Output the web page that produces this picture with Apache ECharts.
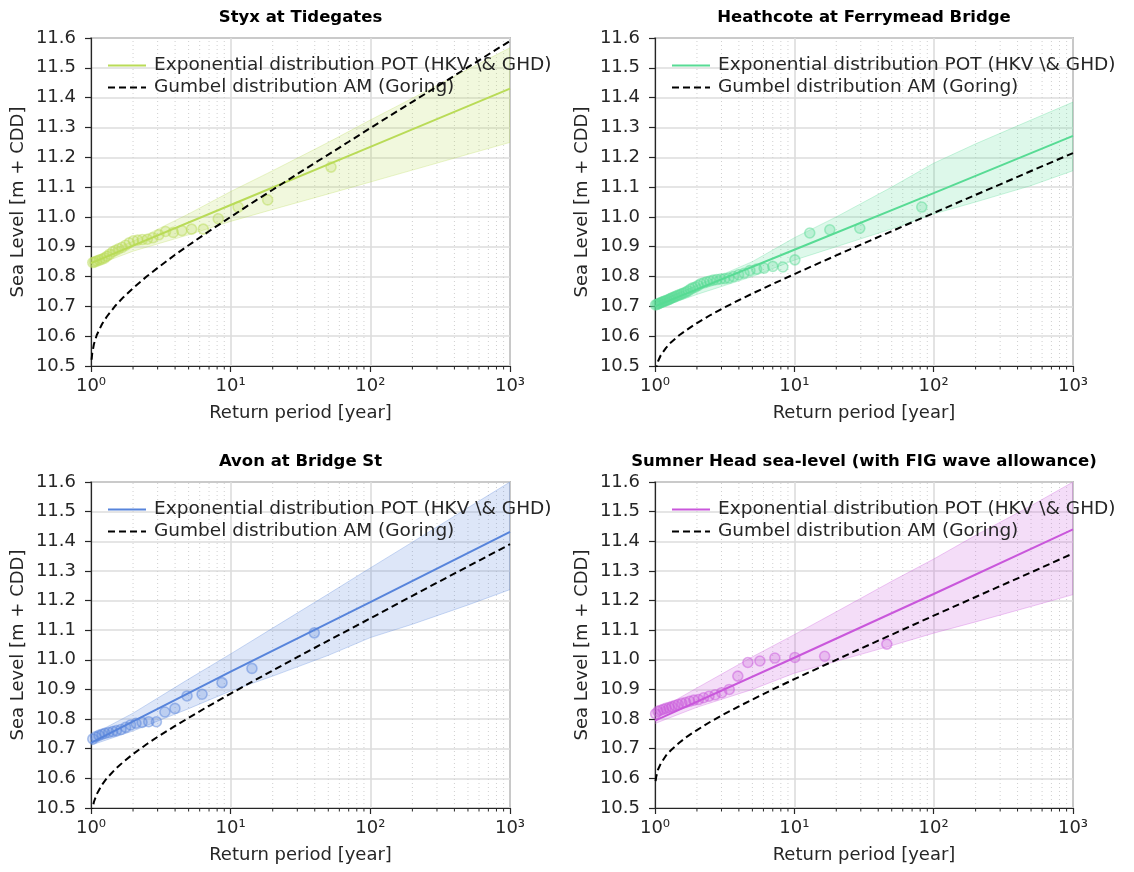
<!DOCTYPE html>
<html>
<head>
<meta charset="utf-8">
<script src="https://cdn.jsdelivr.net/npm/echarts@6/dist/echarts.min.js"></script>
<style>html,body{margin:0;padding:0;background:#fff}#c{width:1134px;height:872px}</style>
</head>
<body>
<div id="c"></div>
<script>
// ---------- data ----------
const panelTitles = ['Styx at Tidegates', 'Heathcote at Ferrymead Bridge', 'Avon at Bridge St', 'Sumner Head sea-level (with FIG wave allowance)'];
const panelColors = ['#B9DB57', '#57DB94', '#5784DB', '#C957DB'];
const legendPot = 'Exponential distribution POT (HKV \\& GHD)';
const legendGumbel = 'Gumbel distribution AM (Goring)';
const yTicks = [10.5, 11.6, 0.1];
const xDecadeLabels = ['10\u2070', '10\u00B9', '10\u00B2', '10\u00B3'];
const minorT = [2,3,4,5,6,7,8,9,20,30,40,50,60,70,80,90,200,300,400,500,600,700,800,900];

const potT = [1, 10, 100, 1000];
const styxPot = [10.845, 11.04, 11.235, 11.43];
const heathPot = [10.70, 10.89, 11.08, 11.272];
const avonPot = [10.72, 10.96, 11.195, 11.432];
const sumnerPot = [10.795, 11.007, 11.222, 11.44];

const bandT = [1, 2, 5, 10, 20, 50, 100, 200, 500, 1000];
const styxLower = [10.832, 10.885, 10.94, 10.985, 11.025, 11.077, 11.117, 11.157, 11.21, 11.25];
const styxUpper = [10.862, 10.918, 11.01, 11.085, 11.155, 11.25, 11.325, 11.398, 11.495, 11.567];
const heathLower = [10.69, 10.74, 10.80, 10.855, 10.9, 10.96, 11.01, 11.05, 11.105, 11.155];
const heathUpper = [10.712, 10.77, 10.85, 10.93, 11.0, 11.1, 11.18, 11.245, 11.325, 11.385];
const avonLower = [10.712, 10.76, 10.835, 10.895, 10.945, 11.015, 11.075, 11.12, 11.185, 11.237];
const avonUpper = [10.745, 10.82, 10.935, 11.02, 11.107, 11.222, 11.31, 11.397, 11.513, 11.60];
const sumnerLower = [10.785, 10.84, 10.90, 10.955, 10.995, 11.048, 11.09, 11.128, 11.18, 11.22];
const sumnerUpper = [10.825, 10.905, 11.01, 11.085, 11.162, 11.265, 11.34, 11.42, 11.52, 11.60];

const gumbelT = [1.01, 1.02, 1.05, 1.1, 1.2, 1.3, 1.5, 1.7, 2, 2.5, 3, 4, 5, 7, 10, 15, 20, 30, 50, 70, 100, 200, 300, 500, 1000];
const styxGumbel = [10.521, 10.542, 10.574, 10.604, 10.641, 10.666, 10.703, 10.730, 10.761, 10.800, 10.829, 10.873, 10.905, 10.952, 11.000, 11.054, 11.091, 11.144, 11.209, 11.252, 11.298, 11.386, 11.437, 11.502, 11.590];
const heathGumbel = [10.479, 10.493, 10.515, 10.536, 10.561, 10.579, 10.604, 10.622, 10.644, 10.671, 10.691, 10.721, 10.743, 10.775, 10.808, 10.845, 10.871, 10.907, 10.952, 10.982, 11.013, 11.074, 11.109, 11.154, 11.214];
const avonGumbel = [10.476, 10.494, 10.521, 10.547, 10.579, 10.601, 10.632, 10.655, 10.682, 10.715, 10.740, 10.777, 10.804, 10.845, 10.886, 10.932, 10.964, 11.009, 11.065, 11.101, 11.140, 11.216, 11.260, 11.315, 11.390];
const sumnerGumbel = [10.591, 10.605, 10.629, 10.650, 10.677, 10.695, 10.721, 10.741, 10.763, 10.791, 10.812, 10.843, 10.866, 10.900, 10.935, 10.973, 11.000, 11.038, 11.085, 11.116, 11.149, 11.212, 11.249, 11.295, 11.359];

const styxObsT = [52.3, 18.4, 11.3, 8.15, 6.37, 5.25, 4.47, 3.88, 3.42, 3.06, 2.77, 2.53, 2.33, 2.16, 2.01, 1.88, 1.77, 1.67, 1.58, 1.50, 1.43, 1.36, 1.30, 1.25, 1.20, 1.15, 1.10, 1.06, 1.03];
const styxObsLevel = [11.167, 11.057, 11.033, 10.994, 10.959, 10.959, 10.954, 10.948, 10.951, 10.940, 10.930, 10.925, 10.924, 10.922, 10.92, 10.913, 10.905, 10.898, 10.893, 10.888, 10.883, 10.875, 10.868, 10.862, 10.858, 10.855, 10.852, 10.849, 10.847];
const heathObsT = [82.1, 29.5, 17.97, 12.9, 10.09, 8.27, 7.0, 6.07, 5.36, 4.8, 4.36, 3.98, 3.66, 3.39, 3.16, 2.96, 2.78, 2.62, 2.48, 2.35, 2.24, 2.13, 2.04, 1.95, 1.87, 1.80, 1.73, 1.67, 1.61, 1.555, 1.505, 1.457, 1.41, 1.37, 1.33, 1.29, 1.26, 1.225, 1.19, 1.165, 1.135, 1.11, 1.08, 1.06, 1.035, 1.01];
const heathObsLevel = [11.033, 10.962, 10.957, 10.946, 10.856, 10.832, 10.834, 10.828, 10.825, 10.82, 10.811, 10.806, 10.80, 10.795, 10.793, 10.792, 10.79, 10.788, 10.785, 10.782, 10.779, 10.776, 10.77, 10.765, 10.762, 10.758, 10.752, 10.748, 10.745, 10.742, 10.739, 10.737, 10.734, 10.731, 10.729, 10.726, 10.723, 10.721, 10.719, 10.717, 10.715, 10.713, 10.711, 10.709, 10.707, 10.705];
const avonObsT = [39.7, 14.2, 8.67, 6.24, 4.87, 3.99, 3.38, 2.94, 2.59, 2.32, 2.10, 1.92, 1.77, 1.64, 1.52, 1.43, 1.34, 1.26, 1.20, 1.14, 1.08, 1.03];
const avonObsLevel = [11.091, 10.971, 10.923, 10.884, 10.878, 10.836, 10.824, 10.791, 10.791, 10.789, 10.786, 10.78, 10.772, 10.765, 10.761, 10.758, 10.755, 10.752, 10.749, 10.745, 10.74, 10.733];
const sumnerObsT = [46.1, 16.5, 10.08, 7.25, 5.66, 4.64, 3.93, 3.41, 3.01, 2.70, 2.44, 2.23, 2.05, 1.90, 1.77, 1.66, 1.56, 1.47, 1.39, 1.32, 1.26, 1.20, 1.15, 1.10, 1.05, 1.01];
const sumnerObsLevel = [11.053, 11.012, 11.008, 11.006, 10.996, 10.991, 10.945, 10.90, 10.889, 10.882, 10.877, 10.872, 10.866, 10.864, 10.86, 10.856, 10.853, 10.849, 10.846, 10.842, 10.839, 10.836, 10.833, 10.83, 10.826, 10.818];

// ---------- layout / style ----------
const FONT = 'DejaVu Sans';
const grids = [
  {left: 91, top: 38, width: 419, height: 328},
  {left: 655, top: 38, width: 418, height: 328},
  {left: 91, top: 482, width: 419, height: 326},
  {left: 655, top: 482, width: 418, height: 326}
];
const panels = [
  {pot: styxPot, lo: styxLower, hi: styxUpper, gum: styxGumbel, oT: styxObsT, oL: styxObsLevel},
  {pot: heathPot, lo: heathLower, hi: heathUpper, gum: heathGumbel, oT: heathObsT, oL: heathObsLevel},
  {pot: avonPot, lo: avonLower, hi: avonUpper, gum: avonGumbel, oT: avonObsT, oL: avonObsLevel},
  {pot: sumnerPot, lo: sumnerLower, hi: sumnerUpper, gum: sumnerGumbel, oT: sumnerObsT, oL: sumnerObsLevel}
];
function rgba(hex, a) {
  const r = parseInt(hex.slice(1,3),16), g = parseInt(hex.slice(3,5),16), b = parseInt(hex.slice(5,7),16);
  return 'rgba(' + r + ',' + g + ',' + b + ',' + a + ')';
}
const zip = (xs, ys) => xs.map((x, i) => [x, ys[i]]);
const TXT = '#262626';

const option = {
  backgroundColor: '#fff',
  animation: false,
  textStyle: {fontFamily: FONT},
  title: [], grid: [], xAxis: [], yAxis: [], legend: [], series: []
};

grids.forEach((g, i) => {
  const col = panelColors[i];
  const p = panels[i];
  option.grid.push(Object.assign({show: true, borderColor: TXT, borderWidth: 1.2, backgroundColor: 'transparent', containLabel: false, outerBoundsMode: 'none'}, g));
  option.title.push({
    text: panelTitles[i], left: g.left + g.width / 2, top: g.top - 29, textAlign: 'center', padding: 0,
    textStyle: {fontFamily: FONT, fontWeight: 'bold', fontSize: 16.5, color: '#000'}
  });
  option.xAxis.push({
    type: 'log', logBase: 10, min: 1, max: 1000, gridIndex: i,
    name: 'Return period [year]', nameLocation: 'middle', nameGap: 38,
    nameTextStyle: {fontFamily: FONT, fontSize: 18, color: TXT},
    axisLine: {show: true, lineStyle: {color: TXT, width: 1.2}},
    axisTick: {show: true, length: 6, lineStyle: {color: TXT, width: 1.2}},
    axisLabel: {fontFamily: FONT, fontSize: 18, color: TXT, margin: 11,
      formatter: v => xDecadeLabels[Math.round(Math.log10(v))]},
    splitLine: {show: true, lineStyle: {color: '#dcdcdc', width: 1.6}},
    minorTick: {show: false}
  });
  option.yAxis.push({
    type: 'value', min: yTicks[0], max: yTicks[1], interval: yTicks[2], gridIndex: i,
    name: 'Sea Level [m + CDD]', nameLocation: 'middle', nameGap: 64,
    nameTextStyle: {fontFamily: FONT, fontSize: 18, color: TXT},
    axisLine: {show: true, lineStyle: {color: TXT, width: 1.2}},
    axisTick: {show: true, length: 6, lineStyle: {color: TXT, width: 1.2}},
    axisLabel: {fontFamily: FONT, fontSize: 18, color: TXT, margin: 15, formatter: v => v.toFixed(1)},
    splitLine: {show: true, lineStyle: {color: '#dcdcdc', width: 1.6}}
  });
  option.legend.push({
    data: ['pot' + i, 'gum' + i], orient: 'vertical',
    left: g.left + 16, top: g.top + 18, padding: 0,
    itemWidth: 38, itemHeight: 14, itemGap: 3,
    selectedMode: false,
    itemStyle: {opacity: 0, color: 'transparent', borderWidth: 0},
    formatter: n => n.indexOf('pot') === 0 ? legendPot : legendGumbel,
    textStyle: {fontFamily: FONT, fontSize: 18.5, color: TXT, padding: [0, 0, 0, 3]}
  });
  // minor log ticks + dotted minor grid
  option.series.push({
    type: 'custom', xAxisIndex: i, yAxisIndex: i, silent: true, clip: false, z: 1,
    data: minorT.map(t => [t, yTicks[0]]),
    renderItem: (params, api) => {
      const v = api.value(0);
      const b = api.coord([v, yTicks[0]]);
      const t = api.coord([v, yTicks[1]]);
      return {type: 'group', children: [
        {type: 'line', shape: {x1: b[0], y1: b[1], x2: b[0], y2: t[1]}, style: {stroke: '#cfcfcf', lineWidth: 1, lineDash: [1, 3]}},
        {type: 'line', shape: {x1: b[0], y1: b[1], x2: b[0], y2: b[1] + 3.5}, style: {stroke: TXT, lineWidth: 1}}
      ]};
    }
  });
  // confidence band
  option.series.push({
    type: 'custom', xAxisIndex: i, yAxisIndex: i, silent: true, clip: true, z: 2,
    data: bandT.map((t, k) => [t, p.lo[k], p.hi[k]]),
    renderItem: (params, api) => {
      if (params.dataIndex !== 0) return null;
      const pts = [];
      for (let k = 0; k < bandT.length; k++) pts.push(api.coord([bandT[k], p.hi[k]]));
      for (let k = bandT.length - 1; k >= 0; k--) pts.push(api.coord([bandT[k], p.lo[k]]));
      return {type: 'polygon', shape: {points: pts}, style: {fill: rgba(col, 0.2), stroke: rgba(col, 0.3), lineWidth: 1}};
    }
  });
  // observations
  option.series.push({
    type: 'scatter', name: 'obs' + i, xAxisIndex: i, yAxisIndex: i, z: 3,
    data: zip(p.oT, p.oL), symbol: 'circle', symbolSize: 10,
    itemStyle: {color: rgba(col, 0.3), borderColor: rgba(col, 0.6), borderWidth: 1.6},
    silent: true
  });
  // POT fit
  option.series.push({
    type: 'line', name: 'pot' + i, xAxisIndex: i, yAxisIndex: i, z: 4,
    data: zip(potT, p.pot), symbol: 'none', showSymbol: false, clip: true,
    color: col, lineStyle: {color: col, width: 2}, silent: true
  });
  // Gumbel
  option.series.push({
    type: 'line', name: 'gum' + i, xAxisIndex: i, yAxisIndex: i, z: 5,
    data: zip(gumbelT, p.gum), symbol: 'none', showSymbol: false, clip: true,
    color: '#000', lineStyle: {color: '#000', width: 2, type: [7, 4]}, silent: true
  });
});

const chart = echarts.init(document.getElementById('c'), null, {renderer: 'canvas'});
chart.setOption(option);
</script>
</body>
</html>
